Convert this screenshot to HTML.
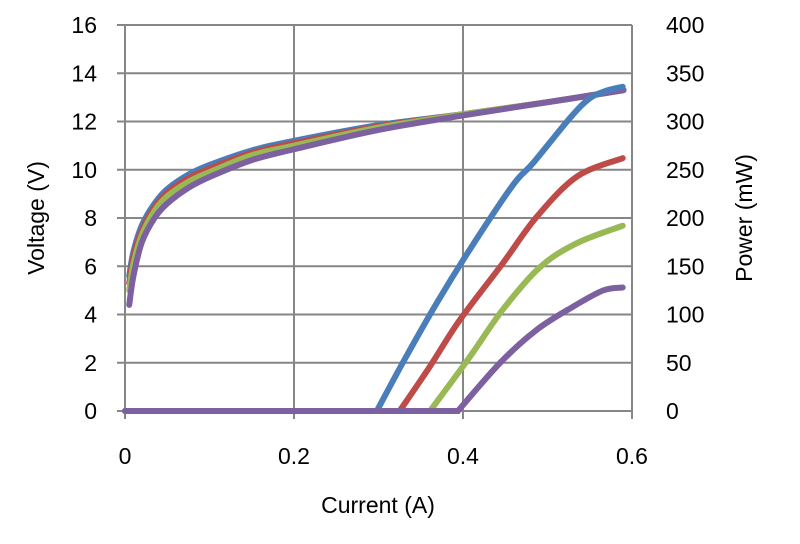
<!DOCTYPE html>
<html><head><meta charset="utf-8"><style>
body{margin:0;background:#fff;}
svg text{font-family:"Liberation Sans",sans-serif;fill:#000;}
</style></head><body>
<svg id="chart" width="800" height="539" viewBox="0 0 800 539" xmlns="http://www.w3.org/2000/svg">
<g id="grid"></g><g id="series"></g><g id="labels"></g>
<text x="0" y="0" transform="translate(44,218) rotate(-90)" text-anchor="middle" font-size="23">Voltage (V)</text>
<text x="0" y="0" transform="translate(752,218) rotate(-90)" text-anchor="middle" font-size="23">Power (mW)</text>
<text x="378" y="513" text-anchor="middle" font-size="23">Current (A)</text>
</svg>
<script>
const xTicks=[0,0.2,0.4,0.6];
const yTicks=[0,2,4,6,8,10,12,14,16];
const y2Ticks=[0,50,100,150,200,250,300,350,400];
const vI=[0.005,0.01,0.02,0.035,0.05,0.075,0.1,0.15,0.2,0.3,0.4,0.5,0.59];
const vBlue=[5.6,6.6,7.7,8.6,9.2,9.8,10.2,10.8,11.2,11.85,12.3,12.8,13.3];
const vRed=[5.3,6.4,7.5,8.45,9.05,9.65,10.05,10.7,11.1,11.8,12.3,12.8,13.3];
const vGreen=[5.0,6.1,7.3,8.3,8.9,9.5,9.9,10.6,11.0,11.75,12.3,12.8,13.3];
const vPurple=[4.4,5.6,7.0,8.0,8.6,9.25,9.7,10.4,10.85,11.65,12.25,12.8,13.3];
const pBlueI=[0,0.298,0.33,0.369,0.41,0.459,0.483,0.527,0.55,0.57,0.589];
const pBlue=[0,0,52,112,170,234,257,304,324,332,336];
const pRedI=[0,0.325,0.36,0.396,0.447,0.487,0.535,0.589];
const pRed=[0,0,45,94,153,201,243,262];
const pGreenI=[0,0.361,0.408,0.447,0.491,0.535,0.589];
const pGreen=[0,0,56,105,149,174,192];
const pPurpleI=[0,0.394,0.444,0.487,0.53,0.566,0.589];
const pPurple=[0,0,50,84,108,125,128];
const X0=125,X1=632,Y0=411,Y1=25;
const sx=v=>X0+(v/0.6)*(X1-X0);
const sy=v=>Y0-(v/16)*(Y0-Y1);
const sy2=v=>Y0-(v/400)*(Y0-Y1);
const NS="http://www.w3.org/2000/svg";
function mk(t,a,p){const e=document.createElementNS(NS,t);for(const k in a)e.setAttribute(k,a[k]);p.appendChild(e);return e;}
const grid=document.getElementById('grid'),lab=document.getElementById('labels'),ser=document.getElementById('series');
yTicks.forEach((v,i)=>{const l=mk('line',{x1:X0-8,x2:X1,y1:sy(v),y2:sy(v),stroke:'#868686','stroke-width':2},grid);


const t=mk('text',{x:97,y:sy(v)+8,'text-anchor':'end','font-size':23},lab);t.textContent=v;

});
y2Ticks.forEach(v=>{const t=mk('text',{x:666,y:sy2(v)+8,'font-size':23},lab);t.textContent=v;

});
xTicks.forEach(v=>{const l=mk('line',{x1:sx(v),x2:sx(v),y1:Y1,y2:Y0+8,stroke:'#868686','stroke-width':2},grid);


const t=mk('text',{x:sx(v),y:464,'text-anchor':'middle','font-size':23},lab);t.textContent=v;

});
function path(xs,ys,fy){let all=xs.map((x,i)=>[sx(x),fy(ys[i])]);
let d='M'+all[0][0]+','+all[0][1];let s=0;
while(s+1<all.length&&all[s+1][1]===all[0][1]){s++;d+=' L'+all[s][0]+','+all[s][1];}
const pts=all.slice(s);const k=1/6;
for(let i=0;i<pts.length-1;i++){const p0=pts[Math.max(0,i-1)],p1=pts[i],p2=pts[i+1],p3=pts[Math.min(pts.length-1,i+2)];
d+=' C'+(p1[0]+(p2[0]-p0[0])*k)+','+(p1[1]+(p2[1]-p0[1])*k)+' '+(p2[0]-(p3[0]-p1[0])*k)+','+(p2[1]-(p3[1]-p1[1])*k)+' '+p2[0]+','+p2[1];}
return d;}
const cols={blue:'#4a7ebb',red:'#be4b48',green:'#98b954',purple:'#7d60a0'};
[[vI,vBlue,'blue'],[vI,vRed,'red'],[vI,vGreen,'green'],[vI,vPurple,'purple']].forEach(([xs,ys,c])=>{
const p=mk('path',{d:path(xs,ys,sy),fill:'none',stroke:cols[c],'stroke-width':6,'stroke-linecap':'round'},ser);

});
[[pBlueI,pBlue,'blue'],[pRedI,pRed,'red'],[pGreenI,pGreen,'green'],[pPurpleI,pPurple,'purple']].forEach(([xs,ys,c])=>{
const p=mk('path',{d:path(xs,ys,sy2),fill:'none',stroke:cols[c],'stroke-width':6,'stroke-linecap':'round'},ser);

});
</script>
</body></html>
